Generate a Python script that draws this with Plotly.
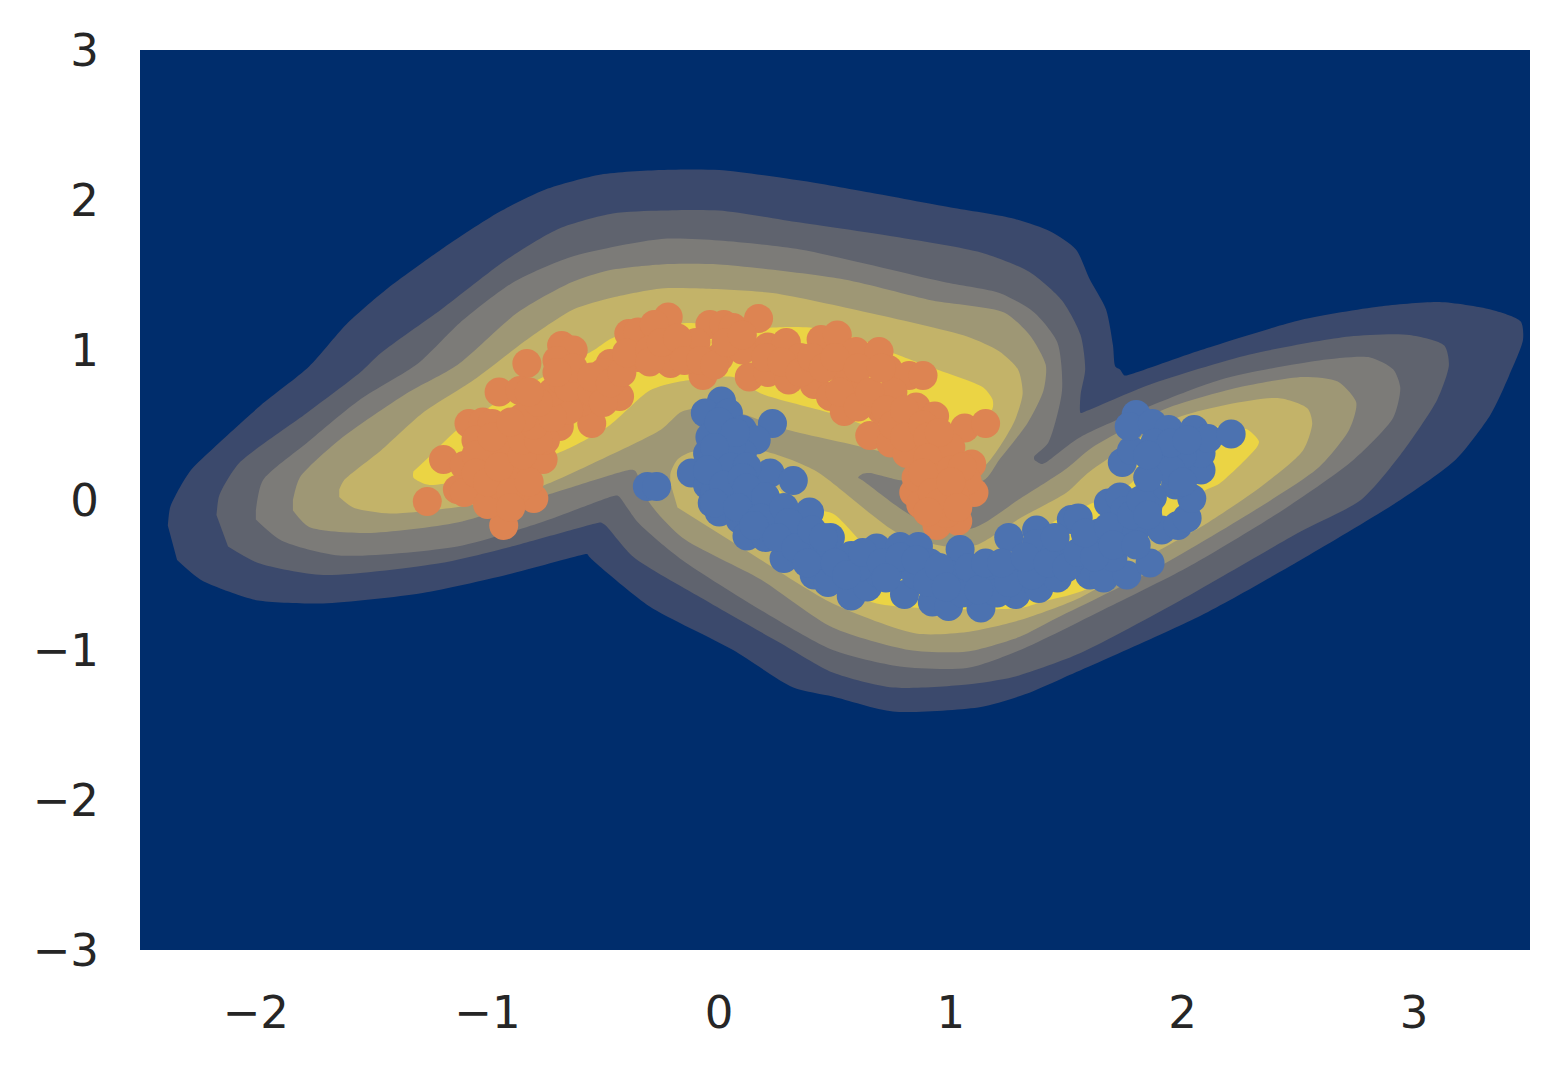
import plotly.graph_objects as go

# Density bands: (x, y) outlines in data units
band1_x = [-2.38,-2.37,-2.34,-2.28,-2.18,-1.98,-1.77,-1.61,-1.44,-1.20,-0.95,-0.75,-0.51,-0.25,0.00,0.35,0.65,1.00,1.26,1.43,1.54,1.60,1.67,1.70,1.71,1.73,1.75,1.78,2.08,2.51,2.85,3.11,3.33,3.46,3.47,3.41,3.33,3.18,2.94,2.51,2.08,1.48,1.33,1.13,0.75,0.49,0.32,0.06,-0.30,-0.51,-0.56,-0.57,-0.59,-0.92,-1.28,-1.71,-1.99,-2.10,-2.24,-2.34]
band1_y = [-0.17,-0.05,0.05,0.20,0.35,0.63,0.89,1.17,1.40,1.67,1.92,2.07,2.17,2.20,2.20,2.13,2.05,1.95,1.88,1.79,1.67,1.47,1.27,1.03,0.89,0.87,0.83,0.84,1.00,1.20,1.29,1.32,1.27,1.19,1.07,0.83,0.57,0.27,0.00,-0.40,-0.77,-1.19,-1.29,-1.38,-1.41,-1.31,-1.25,-1.00,-0.71,-0.45,-0.38,-0.36,-0.365,-0.50,-0.62,-0.69,-0.67,-0.62,-0.53,-0.40]

band2_x = [-2.17,-2.16,-2.14,-2.07,-1.78,-1.55,-1.46,-1.20,-0.92,-0.69,-0.46,-0.25,0.00,0.35,0.78,1.13,1.34,1.48,1.56,1.58,1.56,1.56,1.58,1.86,2.29,2.72,2.98,3.13,3.15,3.10,2.94,2.77,2.51,1.99,1.56,1.27,1.07,0.75,0.49,0.26,-0.08,-0.37,-0.49,-0.51,-0.53,-0.92,-1.20,-1.71,-1.99,-2.12]
band2_y = [-0.10,0.02,0.09,0.25,0.58,0.85,0.98,1.27,1.60,1.81,1.91,1.93,1.93,1.85,1.75,1.65,1.52,1.33,1.10,0.87,0.70,0.58,0.59,0.77,0.97,1.09,1.10,1.03,0.90,0.67,0.30,0.00,-0.21,-0.67,-1.02,-1.18,-1.23,-1.25,-1.15,-0.95,-0.65,-0.38,-0.17,-0.15,-0.155,-0.32,-0.42,-0.50,-0.42,-0.31]

band3_x = [-2.00,-1.97,-1.78,-1.55,-1.30,-1.12,-0.89,-0.64,-0.25,0.00,0.35,0.98,1.21,1.36,1.46,1.48,1.42,1.36,1.36,1.39,1.41,1.56,2.16,2.59,2.81,2.91,2.94,2.91,2.74,2.45,2.02,1.66,1.30,1.07,0.78,0.49,0.23,-0.16,-0.35,-0.43,-0.44,-0.46,-0.77,-1.13,-1.64,-1.89,-2.00]
band3_y = [-0.07,0.13,0.38,0.67,0.91,1.18,1.45,1.62,1.74,1.73,1.67,1.45,1.38,1.25,1.05,0.73,0.38,0.29,0.27,0.24,0.25,0.42,0.80,0.93,0.95,0.87,0.75,0.55,0.27,-0.05,-0.45,-0.73,-1.00,-1.12,-1.11,-1.00,-0.78,-0.40,-0.15,0.02,0.03,0.025,-0.15,-0.31,-0.37,-0.27,-0.13]

band4_x = [-1.84,-1.81,-1.64,-1.35,-1.13,-0.87,-0.64,-0.48,-0.25,0.00,0.54,0.92,1.23,1.34,1.41,1.40,1.33,1.21,1.14,0.79,0.65,0.62,0.60,0.62,0.85,1.09,1.30,1.50,1.61,1.93,2.24,2.52,2.67,2.75,2.72,2.59,2.31,1.87,1.44,1.30,1.07,0.82,0.49,0.18,-0.16,-0.30,-0.36,-0.37,-0.39,-0.77,-1.13,-1.52,-1.77,-1.84]
band4_y = [0.00,0.15,0.40,0.71,0.90,1.25,1.45,1.53,1.57,1.57,1.47,1.33,1.25,1.10,0.90,0.73,0.51,0.27,0.13,0.13,0.18,0.175,0.15,0.13,-0.12,-0.19,0.01,0.21,0.35,0.61,0.75,0.82,0.79,0.65,0.47,0.22,-0.07,-0.47,-0.80,-0.91,-1.01,-1.00,-0.85,-0.53,-0.25,-0.02,0.19,0.20,0.20,0.02,-0.15,-0.22,-0.18,-0.07]

band5a_x = [-1.64,-1.62,-1.46,-1.28,-1.06,-0.82,-0.63,-0.46,-0.25,-0.08,0.23,0.64,1.07,1.21,1.29,1.31,1.27,1.14,1.00,0.68,0.29,0.00,-0.16,-0.25,-0.51,-0.77,-1.06,-1.42,-1.58,-1.64]
band5a_y = [0.07,0.13,0.33,0.58,0.80,1.08,1.27,1.35,1.41,1.41,1.38,1.25,1.09,0.99,0.87,0.71,0.51,0.22,0.17,0.33,0.47,0.62,0.59,0.47,0.27,0.09,-0.03,-0.09,-0.05,0.02]

band5b_x = [-0.21,-0.21,-0.18,-0.12,0.18,0.41,0.77,0.98,1.11,1.30,1.50,1.60,1.98,2.41,2.54,2.56,2.52,2.34,2.09,1.86,1.56,1.30,1.07,0.85,0.49,0.13,-0.18]
band5b_y = [0.11,0.18,0.27,0.32,0.33,0.20,-0.22,-0.31,-0.30,-0.12,0.05,0.19,0.55,0.68,0.61,0.51,0.33,0.09,-0.17,-0.37,-0.65,-0.80,-0.88,-0.89,-0.69,-0.35,-0.05]

band6a_x = [-1.32,-1.32,-1.25,-0.70,-0.48,-0.30,-0.17,0.06,0.18,0.48,0.69,1.04,1.18,1.18,1.14,0.94,0.75,0.61,0.39,0.23,0.12,-0.14,-0.46,-0.54,-0.76,-0.99,-1.13,-1.25]
band6a_y = [0.19,0.15,0.10,0.31,0.49,0.73,0.79,0.82,0.71,0.58,0.47,0.40,0.61,0.67,0.75,0.87,0.98,1.07,1.15,1.15,1.13,1.18,1.08,1.00,0.82,0.62,0.47,0.29]

band6b_x = [0.25,0.35,0.49,0.69,1.33,1.44,1.57,1.79,1.82,1.99,2.15,2.28,2.33,2.32,2.16,2.08,1.59,1.39,1.30,0.68,0.34,0.18,0.09]
band6b_y = [0.08,-0.05,-0.09,-0.37,-0.37,-0.15,-0.05,0.13,0.42,0.50,0.49,0.47,0.39,0.35,0.11,0.05,-0.59,-0.68,-0.72,-0.69,-0.45,-0.29,-0.13]

# Points
orange_x = [-1.26,-1.19,-0.93,-0.80,-0.76,-0.55,-0.69,-0.83,-0.68,-0.63,-0.70,-0.95,-1.08,-1.02,-0.98,-1.10,-1.13,-1.10,-1.00,-0.87,-0.92,-0.86,-0.73,-0.60,-0.43,-0.47,-0.39,-0.35,-0.27,-0.22,-0.28,-0.21,-0.07,-0.04,0.02,0.06,0.17,0.13,0.21,0.30,0.21,0.29,0.41,0.44,0.51,0.59,0.69,0.48,0.54,0.65,0.74,0.73,0.82,0.88,0.85,0.93,1.06,1.15,1.09,1.10,0.84,0.87,0.94,1.03,0.98,1.07,0.85,0.81,0.92,0.98,-0.75,-0.65,-0.50,-0.35,-0.15,0.00,0.35,0.55,0.70,0.85,0.95,-0.90,-0.95,-0.80,-0.50,-0.10,0.10,0.60,0.75,1.00,-1.00,-0.85,-0.95,
            -1.05,-1.05,-1.05,-1.00,-0.95,-0.90,-0.90,-0.82,-0.85,-0.85,-0.98,-0.78,-0.80,-0.85,-0.90,-0.72,-0.72,-0.78,-0.82,-0.68,-0.65,-0.63,-0.70,-0.55,-0.55,-0.50,-0.47,-0.42,-0.40,-0.30,-0.30,-0.25,-0.18,-0.15,-0.08,-0.02,0.03,0.10,0.20,0.27,0.35,0.40,0.45,0.50,0.52,0.60,0.60,0.65,0.70,0.72,0.75,0.80,0.80,0.88,0.90,0.95,0.90,0.95,1.00,1.05,0.88,0.92,1.02,0.95,1.00,1.03,0.90]
orange_y = [-0.01,0.27,-0.17,0.01,0.27,0.51,0.49,0.91,1.03,1.00,0.93,0.72,0.51,0.52,0.51,0.23,0.07,0.05,-0.03,0.07,0.40,0.73,0.65,0.65,0.69,0.91,1.11,1.12,1.15,1.22,1.17,0.91,0.83,1.17,1.17,1.15,1.21,0.82,0.85,0.80,1.02,1.05,0.77,1.07,1.10,0.99,0.99,0.69,0.59,0.43,0.38,0.87,0.83,0.83,0.62,0.56,0.48,0.51,0.24,0.05,0.05,-0.03,-0.17,-0.14,-0.09,0.13,0.15,0.31,0.35,0.09,0.40,0.60,0.75,0.95,1.00,0.95,0.95,0.80,0.60,0.45,0.25,0.25,0.10,0.55,0.85,1.05,1.00,0.70,0.72,0.35,0.30,0.15,0.35,
            0.40,0.30,0.18,0.12,0.22,0.05,-0.05,0.12,0.30,0.40,0.42,0.40,0.50,0.55,0.52,0.55,0.72,0.65,0.72,0.80,0.75,0.88,0.85,0.72,0.82,0.65,0.78,0.85,0.98,1.00,0.92,1.05,1.08,0.93,0.93,0.90,1.05,1.10,0.95,0.92,0.85,0.95,0.88,0.95,0.72,0.88,0.62,0.72,0.88,0.60,0.50,0.60,0.42,0.50,0.42,0.45,0.28,0.15,0.20,0.22,0.18,0.05,0.02,-0.02,0.12,-0.05,-0.08]

blue_x = [-0.31,-0.27,0.01,-0.06,0.04,0.23,0.10,0.16,-0.04,-0.05,0.10,-0.12,0.22,0.32,-0.03,0.00,0.09,0.12,0.18,0.39,0.28,0.41,0.47,0.57,0.48,0.57,0.68,0.64,0.69,0.78,0.86,0.91,0.80,0.92,0.99,1.13,1.04,1.28,1.38,1.46,1.25,1.37,1.37,1.52,1.55,1.60,1.66,1.76,1.86,1.68,1.73,1.80,1.91,1.98,2.02,2.04,1.74,1.78,2.08,2.08,1.80,1.77,1.87,1.94,2.05,2.11,2.21,1.90,1.97,1.87,1.75,1.64,1.70,1.52,0.10,0.00,0.05,-0.05,0.15,0.25,0.35,0.45,0.60,0.75,0.85,1.00,1.10,1.20,1.30,1.45,1.60,1.75,1.85,1.90,2.00,-0.02,0.20,0.05,1.05,1.20,
          0.00,0.07,-0.02,0.05,0.12,-0.05,0.02,0.10,-0.02,0.12,0.20,0.08,0.18,0.28,0.30,0.15,0.25,0.33,0.40,0.45,0.38,0.50,0.55,0.62,0.70,0.78,0.72,0.85,0.90,0.95,0.98,1.08,1.12,1.15,1.25,1.22,1.35,1.32,1.42,1.50,1.45,1.55,1.62,1.58,1.68,1.70,1.78,1.80,1.82,1.85,1.95,1.85,2.00,1.88,1.95,2.02,1.85]
blue_y = [0.09,0.09,0.66,0.58,0.58,0.51,0.47,0.40,0.42,0.31,0.31,0.18,0.18,0.13,-0.02,-0.08,-0.13,-0.24,-0.05,-0.08,-0.39,-0.50,-0.55,-0.64,-0.25,-0.37,-0.32,-0.58,-0.49,-0.31,-0.31,-0.42,-0.63,-0.68,-0.71,-0.72,-0.33,-0.63,-0.59,-0.52,-0.25,-0.20,-0.29,-0.13,-0.12,-0.50,-0.52,-0.50,-0.42,-0.02,0.02,-0.19,-0.20,-0.17,-0.12,0.01,0.25,0.33,0.20,0.31,0.57,0.49,0.51,0.47,0.47,0.41,0.44,0.25,0.10,0.02,-0.07,-0.22,-0.38,-0.40,0.10,0.20,0.35,0.10,0.00,-0.15,-0.25,-0.35,-0.45,-0.45,-0.50,-0.50,-0.55,-0.50,-0.45,-0.35,-0.30,-0.25,-0.05,0.35,0.30,0.05,-0.25,0.00,-0.62,-0.62,
          0.52,0.45,0.35,0.22,0.22,0.20,0.10,0.15,-0.02,0.08,0.02,-0.05,-0.12,-0.05,-0.15,-0.17,-0.25,-0.32,-0.20,-0.25,-0.42,-0.42,-0.50,-0.35,-0.42,-0.38,-0.52,-0.40,-0.55,-0.45,-0.58,-0.45,-0.60,-0.42,-0.55,-0.42,-0.50,-0.38,-0.42,-0.45,-0.25,-0.35,-0.38,-0.22,-0.18,-0.30,-0.10,-0.30,0.00,-0.10,0.20,0.15,0.12,0.38,0.38,0.40,0.30]

tick_vals = [-3, -2, -1, 0, 1, 2, 3]
tick_text = ["\u22123", "\u22122", "\u22121", "0", "1", "2", "3"]

BASE = "#002d6c"
C1, C2, C3, C4, C5, C6 = "#3b496c", "#5f636e", "#7c7b78", "#9e9775", "#c3b369", "#ebd444"
FONT = dict(family="DejaVu Sans", size=45, color="#262626")

fig = go.Figure()
layers = [(band1_x, band1_y, C1), (band2_x, band2_y, C2), (band3_x, band3_y, C3), (band4_x, band4_y, C4),
          (band5a_x, band5a_y, C5), (band5b_x, band5b_y, C5), (band6a_x, band6a_y, C6), (band6b_x, band6b_y, C6)]
for lx, ly, col in layers:
    fig.add_trace(go.Scatter(x=lx, y=ly, mode="lines", fill="toself", fillcolor=col,
                             line=dict(width=0, color=col, shape="spline", smoothing=0.7), hoverinfo="skip"))
fig.add_trace(go.Scatter(x=orange_x, y=orange_y, mode="markers", marker=dict(size=29, color="#dd8452", line=dict(width=0))))
fig.add_trace(go.Scatter(x=blue_x, y=blue_y, mode="markers", marker=dict(size=29, color="#4c72b0", line=dict(width=0))))

axis = dict(showgrid=False, zeroline=False, showline=False, ticks="outside", tickcolor="rgba(0,0,0,0)",
            tickfont=FONT, tickvals=tick_vals, ticktext=tick_text)
fig.update_layout(width=1554, height=1060, showlegend=False, paper_bgcolor="white", plot_bgcolor=BASE,
                  margin=dict(l=132, r=32, t=42, b=118, autoexpand=False),
                  xaxis=dict(range=[-2.5, 3.5], ticklen=23, **axis),
                  yaxis=dict(range=[-3, 3], ticklen=31, **axis))
fig.write_html("out.html")
